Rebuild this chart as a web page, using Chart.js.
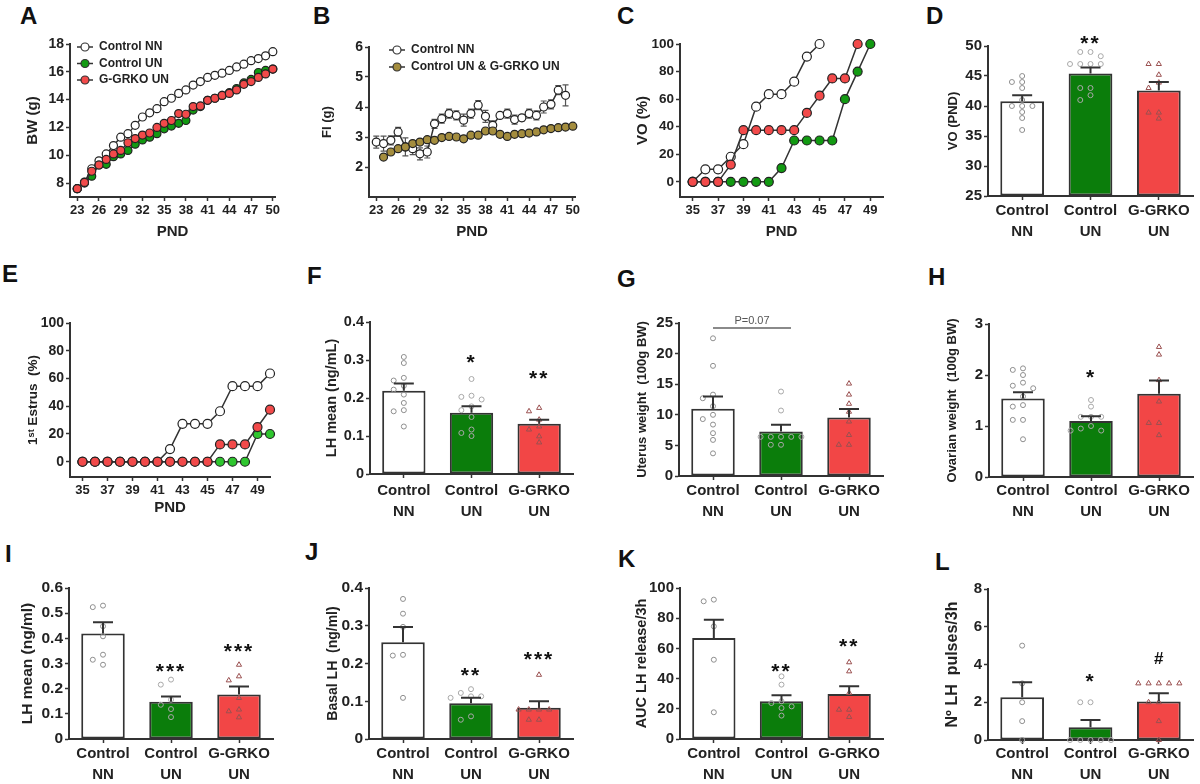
<!DOCTYPE html>
<html>
<head>
<meta charset="utf-8">
<script src="https://cdn.jsdelivr.net/npm/chart.js@4.4.0/dist/chart.umd.min.js"></script>
<style>
  body { margin: 0; background: #fff; width: 1200px; height: 784px; position: relative; overflow: hidden; }
  canvas { position: absolute; }
  .tag { position: absolute; font: bold 24px Arial, "Liberation Sans", sans-serif; line-height: 1; color: #111; }
</style>
</head>
<body>
<div class="tag" style="left:20px;top:4px">A</div>
<div class="tag" style="left:313px;top:4px">B</div>
<div class="tag" style="left:617px;top:4px">C</div>
<div class="tag" style="left:926px;top:4px">D</div>
<div class="tag" style="left:2px;top:262px">E</div>
<div class="tag" style="left:307px;top:264px">F</div>
<div class="tag" style="left:617px;top:267px">G</div>
<div class="tag" style="left:928px;top:265px">H</div>
<div class="tag" style="left:5px;top:542px">I</div>
<div class="tag" style="left:305px;top:540px">J</div>
<div class="tag" style="left:618px;top:547px">K</div>
<div class="tag" style="left:935px;top:550px">L</div>

<canvas id="cA"></canvas><canvas id="cB"></canvas><canvas id="cC"></canvas><canvas id="cD"></canvas>
<canvas id="cE"></canvas><canvas id="cF"></canvas><canvas id="cG"></canvas><canvas id="cH"></canvas>
<canvas id="cI"></canvas><canvas id="cJ"></canvas><canvas id="cK"></canvas><canvas id="cL"></canvas>

<script>
const INK = "#333";
const FONT = "Arial, 'Liberation Sans', sans-serif";

// -------------------------
// DATA
// -------------------------
const groupLabels = [["Control", "NN"], ["Control", "UN"], ["G-GRKO", "UN"]];
const groupFill = ["#ffffff", "#0b7d0b", "#f24646"];
const dotColor = ["#8f8f8f", "#a8a8a8", "#9a5050"];

// A - body weight
const pndA = [23, 24, 25, 26, 27, 28, 29, 30, 31, 32, 33, 34, 35, 36, 37, 38, 39, 40, 41, 42, 43, 44, 45, 46, 47, 48, 49, 50];
const bwNN = [7.6, 8.07, 9.03, 9.6, 10.1, 10.7, 11.3, 11.55, 12.15, 12.75, 13.05, 13.35, 13.85, 14.1, 14.45, 14.7, 15.05, 15.3, 15.6, 15.75, 15.9, 16.1, 16.35, 16.55, 16.8, 16.95, 17.15, 17.45];
const bwUN = [7.6, 8.0, 8.5, 9.3, 9.35, 9.9, 10.1, 10.35, 10.8, 11.1, 11.3, 11.55, 11.9, 12.1, 12.3, 12.5, 13.25, 13.5, 13.95, 14.1, 14.3, 14.5, 14.8, 15.2, 15.45, 15.95, 16.1, 16.2];
const bwKO = [7.6, 8.05, 8.85, 9.3, 9.7, 10.1, 10.35, 10.9, 11.2, 11.45, 11.6, 12.0, 12.3, 12.5, 13.0, 12.95, 13.5, 13.55, 13.95, 14.1, 14.3, 14.45, 14.7, 15.1, 15.3, 15.6, 15.85, 16.2];
const pndTicksAB = [23, 26, 29, 32, 35, 38, 41, 44, 47, 50];
const bwTicks = [8, 10, 12, 14, 16, 18];

// B - food intake
const pndB_NN = [23, 24, 25, 26, 27, 28, 29, 30, 31, 32, 33, 34, 35, 36, 37, 38, 39, 40, 41, 42, 43, 44, 45, 46, 47, 48, 49];
const fiNN = [2.83, 2.78, 2.89, 3.17, 2.67, 2.61, 2.44, 2.5, 3.44, 3.61, 3.78, 3.72, 3.56, 3.78, 4.06, 3.69, 3.39, 3.72, 3.78, 3.58, 3.64, 3.78, 3.72, 4.0, 4.09, 4.56, 4.39];
const fiNNsem = [0.2, 0.25, 0.15, 0.15, 0.3, 0.2, 0.2, 0.2, 0.15, 0.15, 0.15, 0.15, 0.2, 0.15, 0.15, 0.2, 0.15, 0.1, 0.15, 0.15, 0.1, 0.15, 0.15, 0.2, 0.15, 0.15, 0.35];
const pndB_UN = [24, 25, 26, 27, 28, 29, 30, 31, 32, 33, 34, 35, 36, 37, 38, 39, 40, 41, 42, 43, 44, 45, 46, 47, 48, 49, 50];
const fiUN = [2.33, 2.5, 2.61, 2.67, 2.78, 2.83, 2.91, 2.89, 2.98, 3.02, 3.0, 2.94, 3.06, 3.06, 3.2, 3.2, 3.09, 3.02, 3.09, 3.11, 3.13, 3.17, 3.24, 3.28, 3.31, 3.33, 3.36];
const fiTicks = [2, 3, 4, 5, 6];

// C - vaginal opening (%)
const pndC_NN = [35, 36, 37, 38, 39, 40, 41, 42, 43, 44, 45];
const voNN = [0, 9.1, 9.1, 18.2, 27.3, 54.5, 63.6, 63.6, 72.7, 90.9, 100];
const pndC_UN = [35, 36, 37, 38, 39, 40, 41, 42, 43, 44, 45, 46, 47, 48, 49];
const voUN = [0, 0, 0, 0, 0, 0, 0, 10, 30, 30, 30, 30, 60, 80, 100];
const pndC_KO = [35, 36, 37, 38, 39, 40, 41, 42, 43, 44, 45, 46, 47, 48];
const voKO = [0, 0, 0, 12.5, 37.5, 37.5, 37.5, 37.5, 37.5, 50, 62.5, 75, 75, 100];
const pctTicks = [0, 20, 40, 60, 80, 100];
const pndTicksCE = [35, 37, 39, 41, 43, 45, 47, 49];

// E - first estrus (%)
const pndE = [35, 36, 37, 38, 39, 40, 41, 42, 43, 44, 45, 46, 47, 48, 49, 50];
const esNN = [0, 0, 0, 0, 0, 0, 0, 9.1, 27.3, 27.3, 27.3, 36.4, 54.5, 54.5, 54.5, 63.6];
const esUN = [0, 0, 0, 0, 0, 0, 0, 0, 0, 0, 0, 0, 0, 0, 20, 20];
const esKO = [0, 0, 0, 0, 0, 0, 0, 0, 0, 0, 0, 12.5, 12.5, 12.5, 25, 37.5];

// D - age at VO (PND)
const voAgeMean = [40.8, 45.4, 42.6];
const voAgeSem = [1.0, 1.0, 1.4];
const voAgeNN = [44, 45, 44, 43, 40, 40, 40, 41, 39, 38, 36];
const voAgeUN = [49, 49, 48.3, 47, 47, 47, 47, 43, 43, 41.8, 41];
const voAgeKO = [47, 47, 45.2, 43.9, 43, 38.9, 38.9, 37.9];
const voAgeSig = ["", "**", ""];
const voAgeSigAt = [null, 51.2, null];

// F - LH mean (peripubertal)
const lhMean = [0.219, 0.161, 0.132];
const lhSem = [0.019, 0.017, 0.011];
const lhNN = [0.308, 0.292, 0.253, 0.246, 0.232, 0.222, 0.209, 0.187, 0.168, 0.165, 0.125];
const lhUN = [0.25, 0.206, 0.203, 0.196, 0.178, 0.168, 0.15, 0.117, 0.108, 0.1];
const lhKO = [0.174, 0.165, 0.143, 0.125, 0.117, 0.099, 0.083];
const lhSig = ["", "*", "**"];
const lhSigAt = [null, 0.305, 0.263];

// G - uterus weight
const utMean = [11.0, 7.26, 9.55];
const utSem = [2.0, 1.1, 1.4];
const utNN = [22.5, 18, 13.3, 12.7, 11.4, 10, 9.3, 8.4, 7, 5.9, 3.7];
const utUN = [13.8, 10.7, 6.4, 6.4, 6.4, 6.4, 6.4, 5.1, 5.1];
const utKO = [15.1, 13.3, 11.8, 10.5, 8.9, 6.7, 5.1, 5.1];
const utBracket = { from: 0, to: 1, at: 24.2, text: "P=0.07" };

// H - ovarian weight
const ovMean = [1.54, 1.10, 1.63];
const ovSem = [0.12, 0.09, 0.26];
const ovNN = [2.13, 2.1, 2.0, 1.85, 1.79, 1.74, 1.58, 1.41, 1.38, 1.12, 1.12, 0.74];
const ovUN = [1.51, 1.38, 1.18, 1.18, 1.18, 1.0, 0.95, 0.91, 0.91];
const ovKO = [2.55, 2.4, 1.9, 1.48, 1.06, 1.06, 0.82];
const ovSig = ["", "*", ""];
const ovSigAt = [null, 2.04, null];

// I - LH mean (pulse study)
const lh2Mean = [0.419, 0.148, 0.177];
const lh2Sem = [0.045, 0.021, 0.032];
const lh2NN = [0.53, 0.524, 0.448, 0.408, 0.335, 0.315, 0.295];
const lh2UN = [0.236, 0.216, 0.156, 0.136, 0.119, 0.087];
const lh2KO = [0.295, 0.249, 0.233, 0.163, 0.117, 0.11, 0.086];
const lh2Sig = ["", "***", "***"];
const lh2SigAt = [null, 0.286, 0.366];

// J - basal LH
const basMean = [0.256, 0.095, 0.083];
const basSem = [0.041, 0.014, 0.017];
const basNN = [0.371, 0.332, 0.297, 0.223, 0.221, 0.109];
const basUN = [0.132, 0.122, 0.113, 0.113, 0.109, 0.06, 0.051];
const basKO = [0.17, 0.078, 0.078, 0.078, 0.078, 0.051, 0.051];
const basSig = ["", "**", "***"];
const basSigAt = [null, 0.18, 0.223];

// K - AUC LH
const aucMean = [66.9, 25.0, 29.8];
const aucSem = [12.1, 3.9, 5.1];
const aucNN = [92.3, 91.2, 74.6, 52.5, 17.7];
const aucUN = [41.5, 36, 25, 23.8, 21.6, 20.5, 15.5];
const aucKO = [50.8, 44.8, 30.5, 19.4, 19.4, 14.6];
const aucSig = ["", "**", "**"];
const aucSigAt = [null, 47.7, 64.2];

// L - LH pulses
const plsMean = [2.27, 0.67, 2.04];
const plsSem = [0.79, 0.39, 0.44];
const plsNN = [5, 3, 2, 1, 0];
const plsUN = [2, 2, 0, 0, 0, 0, 0];
const plsKO = [3, 3, 3, 3, 3, 2, 2, 1, 0];
const plsSig = ["", "*", "#"];
const plsSigAt = [null, 3.35, 4.25];

// -------------------------
// PLUGINS
// -------------------------
function drawErr(chart, o) {
  const ctx = chart.ctx;
  const y = chart.scales.y;
  const meta = chart.getDatasetMeta(0);
  const data = chart.data.datasets[0].data;
  ctx.save();
  ctx.strokeStyle = o.color || INK;
  ctx.lineWidth = o.width || 2;
  meta.data.forEach((el, i) => {
    const v = typeof data[i] === "object" ? data[i].y : data[i];
    const x = el.x;
    const hi = y.getPixelForValue(v + o.sem[i]);
    const lo = o.both ? y.getPixelForValue(v - o.sem[i]) : y.getPixelForValue(v);
    ctx.beginPath();
    ctx.moveTo(x, lo);
    ctx.lineTo(x, hi);
    ctx.moveTo(x - o.cap, hi);
    ctx.lineTo(x + o.cap, hi);
    if (o.both) {
      ctx.moveTo(x - o.cap, lo);
      ctx.lineTo(x + o.cap, lo);
    }
    ctx.stroke();
  });
  ctx.restore();
}

const errBars = {
  id: "errBars",
  beforeDatasetsDraw(chart, args, o) {
    if (o.sem && o.under) drawErr(chart, o);
  },
  afterDatasetsDraw(chart, args, o) {
    if (o.sem && !o.under) drawErr(chart, o);
    const ctx = chart.ctx;
    const y = chart.scales.y;
    const meta = chart.getDatasetMeta(0);
    if (o.sig) {
      ctx.save();
      ctx.fillStyle = "#111";
      ctx.textAlign = "center";
      ctx.textBaseline = "middle";
      o.sig.forEach((t, i) => {
        if (!t) return;
        const isStar = t.indexOf("*") >= 0;
        ctx.font = isStar ? "bold 21px " + FONT : "bold 17px " + FONT;
        ctx.letterSpacing = isStar ? "2px" : "0px";
        ctx.fillText(t, meta.data[i].x, y.getPixelForValue(o.sigAt[i]) + (isStar ? 5 : 0));
      });
      ctx.restore();
    }
    if (o.bracket) {
      const b = o.bracket;
      const x0 = meta.data[b.from].x;
      const x1 = meta.data[b.to].x + 10;
      const yy = y.getPixelForValue(b.at);
      ctx.save();
      ctx.strokeStyle = "#8a8a8a";
      ctx.lineWidth = 2;
      ctx.beginPath();
      ctx.moveTo(x0, yy);
      ctx.lineTo(x1, yy);
      ctx.stroke();
      ctx.fillStyle = "#555";
      ctx.font = "11px " + FONT;
      ctx.textAlign = "center";
      ctx.textBaseline = "bottom";
      ctx.fillText(b.text, (x0 + x1) / 2, yy - 1);
      ctx.restore();
    }
  }
};

const cornerLegend = {
  id: "cornerLegend",
  afterDatasetsDraw(chart, args, o) {
    if (!o.show) return;
    const { ctx, chartArea } = chart;
    ctx.save();
    ctx.font = "bold 12px " + FONT;
    ctx.textBaseline = "middle";
    chart.data.datasets.forEach((ds, i) => {
      const x = chartArea.left + o.dx;
      const y = chartArea.top + o.dy + i * o.gap;
      ctx.strokeStyle = INK;
      ctx.lineWidth = 1.5;
      ctx.beginPath();
      ctx.moveTo(x - 8, y);
      ctx.lineTo(x + 8, y);
      ctx.stroke();
      ctx.beginPath();
      ctx.arc(x, y, 4, 0, Math.PI * 2);
      ctx.fillStyle = ds.pointBackgroundColor;
      ctx.fill();
      ctx.lineWidth = 1.2;
      ctx.stroke();
      ctx.fillStyle = "#222";
      ctx.fillText(ds.label, x + 14, y);
    });
    ctx.restore();
  }
};

Chart.register(errBars, cornerLegend);

// -------------------------
// HELPERS
// -------------------------
function place(id, box) {
  const c = document.getElementById(id);
  c.width = box[2];
  c.height = box[3];
  c.style.left = box[0] + "px";
  c.style.top = box[1] + "px";
  c.style.width = box[2] + "px";
  c.style.height = box[3] + "px";
  return c;
}

function baseOptions(box, area) {
  return {
    responsive: false,
    animation: false,
    devicePixelRatio: 1,
    events: [],
    layout: { padding: { left: 0, top: area[1] - box[1], right: box[0] + box[2] - area[2], bottom: 0 } },
    plugins: { legend: { display: false }, tooltip: { enabled: false } }
  };
}

function axisStyle(size) {
  return {
    grid: { drawOnChartArea: false, drawTicks: true, tickLength: 4, tickWidth: 1.5, tickColor: INK, offset: false },
    border: { display: true, color: INK, width: 2 },
    ticks: { color: "#222", font: { family: FONT, size: size, weight: "bold" }, autoSkip: false, maxRotation: 0, padding: 2 }
  };
}

function yAxis(box, area, p) {
  const ax = axisStyle(p.tickSize || 14);
  const ts = p.titleSize || 13;
  ax.min = p.yMin;
  ax.max = p.yMax;
  if (p.yStep) ax.ticks.stepSize = p.yStep;
  if (p.yTicks) ax.afterBuildTicks = s => { s.ticks = p.yTicks.map(v => ({ value: v })); };
  ax.afterFit = s => { s.width = area[0] - box[0]; };
  ax.title = {
    display: true, text: p.yTitle, color: "#222",
    font: { family: FONT, size: ts, weight: "bold" },
    padding: { top: p.yTitleX - box[0] - ts * 0.6, bottom: 0 }
  };
  return ax;
}

// spread tied dots sideways (x position only, values untouched)
function swarm(vals, group, span) {
  const near = span * 0.04;
  const step = 0.15;
  const slots = [0, -1, 1, -2, 2, -3, 3];
  const placed = [];
  return vals.map(v => {
    const used = placed.filter(q => Math.abs(q.v - v) < near).map(q => q.s);
    const s = slots.find(k => !used.includes(k)) ?? 0;
    placed.push({ v, s });
    return { x: group + s * step, y: v };
  });
}

// -------------------------
// LINE PANELS (A, B, C, E)
// -------------------------
function linePanel(id, box, area, p) {
  const opts = baseOptions(box, area);
  const xa = axisStyle(13);
  xa.type = "linear";
  xa.min = p.xMin;
  xa.max = p.xMax;
  xa.afterBuildTicks = s => { s.ticks = p.xTicks.map(v => ({ value: v })); };
  xa.afterFit = s => { s.height = box[1] + box[3] - area[3]; };
  xa.ticks.padding = p.xLabelY - area[3] - 4 - 7.8;
  xa.title = {
    display: true, text: "PND", color: "#222",
    font: { family: FONT, size: 15, weight: "bold" },
    padding: { top: 0, bottom: box[1] + box[3] - p.xTitleY - 9 }
  };
  opts.scales = { x: xa, y: yAxis(box, area, p) };
  if (p.legend) opts.plugins.cornerLegend = Object.assign({ show: true }, p.legend);
  if (p.sem) opts.plugins.errBars = { sem: p.sem, both: true, under: true, cap: 3, width: 1.2, color: "#555" };

  return new Chart(place(id, box), {
    type: "line",
    data: {
      datasets: p.series.map(s => ({
        label: s.label,
        data: s.x.map((x, i) => ({ x: x, y: s.y[i] })),
        borderColor: INK,
        borderWidth: 1.5,
        pointRadius: p.r,
        pointBorderWidth: 1.2,
        pointBorderColor: "#222",
        pointBackgroundColor: s.fill,
        tension: 0,
        clip: false,
        order: s.order
      }))
    },
    options: opts
  });
}

// -------------------------
// BAR PANELS (D, F-L)
// -------------------------
function barPanel(id, box, area, p) {
  const opts = baseOptions(box, area);
  const span = p.yMax - p.yMin;
  const xa = axisStyle(15);
  xa.type = "category";
  xa.ticks.font.lineHeight = "21px";
  xa.ticks.padding = p.labelY - area[3] - 4 - 10.5;
  xa.afterFit = s => { s.height = box[1] + box[3] - area[3]; };
  opts.scales = {
    x: xa,
    xj: { type: "linear", display: false, min: -0.5, max: 2.5, offset: false, grid: { offset: false } },
    y: yAxis(box, area, p)
  };
  opts.plugins.errBars = { sem: p.sem, cap: 10, width: 2, color: INK, sig: p.sig, sigAt: p.sigAt, bracket: p.bracket };

  const dots = p.points.map((vals, g) => ({
    type: "scatter",
    xAxisID: "xj",
    data: swarm(vals, g, span),
    pointStyle: g === 2 ? "triangle" : "circle",
    pointRadius: g === 2 ? 3 : 2.5,
    pointBorderWidth: 1,
    pointBorderColor: dotColor[g],
    pointBackgroundColor: "rgba(255,255,255,0)",
    clip: false,
    order: 1
  }));

  return new Chart(place(id, box), {
    type: "bar",
    data: {
      labels: groupLabels,
      datasets: [{
        data: p.mean,
        backgroundColor: groupFill,
        borderColor: INK,
        borderWidth: 2,
        borderSkipped: false,
        base: p.yMin,
        grouped: false,
        barPercentage: 0.64,
        categoryPercentage: 1,
        order: 2
      }].concat(dots)
    },
    options: opts
  });
}

// -------------------------
// BUILD FIGURE
// -------------------------
linePanel("cA", [0, 30, 300, 215], [70, 44, 275, 197], {
  xMin: 22, xMax: 50.3, xTicks: pndTicksAB, xLabelY: 210, xTitleY: 232,
  yMin: 7, yMax: 18, yTicks: bwTicks, yTitle: "BW (g)", yTitleX: 33, titleSize: 15, tickSize: 14,
  r: 4,
  legend: { dx: 15, dy: 3, gap: 16.5 },
  series: [
    { label: "Control NN", x: pndA, y: bwNN, fill: "#ffffff", order: 3 },
    { label: "Control UN", x: pndA, y: bwUN, fill: "#129a12", order: 2 },
    { label: "G-GRKO UN", x: pndA, y: bwKO, fill: "#f24a4a", order: 1 }
  ]
});

linePanel("cB", [300, 30, 300, 215], [369, 47, 575, 197], {
  xMin: 22, xMax: 50.3, xTicks: pndTicksAB, xLabelY: 210, xTitleY: 232,
  yMin: 1, yMax: 6, yTicks: fiTicks, yTitle: "FI (g)", yTitleX: 327, titleSize: 13, tickSize: 14,
  r: 4,
  legend: { dx: 28, dy: 3, gap: 17 },
  sem: fiNNsem,
  series: [
    { label: "Control NN", x: pndB_NN, y: fiNN, fill: "#ffffff", order: 2 },
    { label: "Control UN & G-GRKO UN", x: pndB_UN, y: fiUN, fill: "#a48d3e", order: 1 }
  ]
});

linePanel("cC", [600, 30, 300, 215], [680, 44, 883, 197], {
  xMin: 34, xMax: 50, xTicks: pndTicksCE, xLabelY: 210, xTitleY: 232,
  yMin: -11, yMax: 100, yTicks: pctTicks, yTitle: "VO (%)", yTitleX: 643, titleSize: 15, tickSize: 13.5,
  r: 4.5,
  series: [
    { label: "Control NN", x: pndC_NN, y: voNN, fill: "#ffffff", order: 2 },
    { label: "Control UN", x: pndC_UN, y: voUN, fill: "#129a12", order: 3 },
    { label: "G-GRKO UN", x: pndC_KO, y: voKO, fill: "#f24a4a", order: 1 }
  ]
});

barPanel("cD", [900, 30, 300, 215], [988, 46, 1193, 196], {
  yMin: 25, yMax: 50, yStep: 5, yTitle: "VO (PND)", yTitleX: 953, titleSize: 13, tickSize: 15, labelY: 211,
  mean: voAgeMean, sem: voAgeSem, points: [voAgeNN, voAgeUN, voAgeKO], sig: voAgeSig, sigAt: voAgeSigAt
});

linePanel("cE", [0, 300, 300, 225], [70, 323, 270, 477], {
  xMin: 34, xMax: 50, xTicks: pndTicksCE, xLabelY: 490, xTitleY: 508,
  yMin: -11, yMax: 100, yTicks: pctTicks, yTitle: "1ˢᵗ Estrus  (%)", yTitleX: 33, titleSize: 13.5, tickSize: 14,
  r: 4.5,
  series: [
    { label: "Control NN", x: pndE, y: esNN, fill: "#ffffff", order: 2 },
    { label: "Control UN", x: pndE, y: esUN, fill: "#2fc62f", order: 3 },
    { label: "G-GRKO UN", x: pndE, y: esKO, fill: "#f24a4a", order: 1 }
  ]
});

barPanel("cF", [300, 300, 300, 225], [370, 322, 573, 474], {
  yMin: 0, yMax: 0.4, yStep: 0.1, yTitle: "LH mean (ng/mL)", yTitleX: 332, titleSize: 14.5, tickSize: 14.5, labelY: 491,
  mean: lhMean, sem: lhSem, points: [lhNN, lhUN, lhKO], sig: lhSig, sigAt: lhSigAt
});

barPanel("cG", [600, 300, 300, 225], [679, 323, 883, 476], {
  yMin: 0, yMax: 25, yStep: 5, yTitle: "Uterus weight  (100g BW)", yTitleX: 642, titleSize: 13, tickSize: 15, labelY: 491,
  mean: utMean, sem: utSem, points: [utNN, utUN, utKO], bracket: utBracket
});

barPanel("cH", [900, 300, 300, 225], [989, 324, 1193, 477], {
  yMin: 0, yMax: 3, yStep: 1, yTitle: "Ovarian weight  (100g BW)", yTitleX: 952, titleSize: 13, tickSize: 15, labelY: 491,
  mean: ovMean, sem: ovSem, points: [ovNN, ovUN, ovKO], sig: ovSig, sigAt: ovSigAt
});

barPanel("cI", [0, 565, 300, 219], [69, 588, 273, 739], {
  yMin: 0, yMax: 0.6, yStep: 0.1, yTitle: "LH mean (ng/ml)", yTitleX: 28, titleSize: 15.5, tickSize: 15.5, labelY: 754,
  mean: lh2Mean, sem: lh2Sem, points: [lh2NN, lh2UN, lh2KO], sig: lh2Sig, sigAt: lh2SigAt
});

barPanel("cJ", [300, 565, 300, 219], [369, 588, 573, 739], {
  yMin: 0, yMax: 0.4, yStep: 0.1, yTitle: "Basal LH  (ng/ml)", yTitleX: 333, titleSize: 14, tickSize: 15.5, labelY: 754,
  mean: basMean, sem: basSem, points: [basNN, basUN, basKO], sig: basSig, sigAt: basSigAt
});

barPanel("cK", [600, 565, 300, 219], [680, 588, 883, 739], {
  yMin: 0, yMax: 100, yStep: 20, yTitle: "AUC LH release/3h", yTitleX: 642, titleSize: 14.5, tickSize: 15, labelY: 754,
  mean: aucMean, sem: aucSem, points: [aucNN, aucUN, aucKO], sig: aucSig, sigAt: aucSigAt
});

barPanel("cL", [900, 565, 300, 219], [988, 589, 1193, 740], {
  yMin: 0, yMax: 8, yStep: 2, yTitle: "Nº LH  pulses/3h", yTitleX: 953, titleSize: 16, tickSize: 15, labelY: 754,
  mean: plsMean, sem: plsSem, points: [plsNN, plsUN, plsKO], sig: plsSig, sigAt: plsSigAt
});
</script>
</body>
</html>
